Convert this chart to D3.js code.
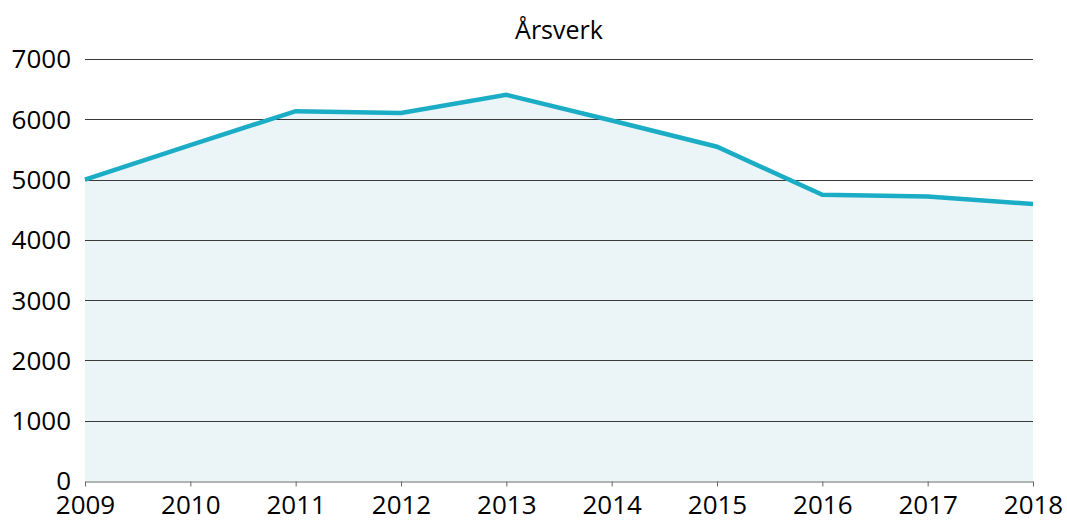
<!DOCTYPE html>
<html>
<head>
<meta charset="utf-8">
<script src="https://cdn.jsdelivr.net/npm/d3@7"></script>
<style>
  body{margin:0;background:#fff;}
  text{font-family:"Open Sans",sans-serif;fill:#000;}
</style>
</head>
<body>
<div id="chart"></div>
<script>
// data
const years=[2009,2010,2011,2012,2013,2014,2015,2016,2017,2018];
const arsverk=[5000,5570,6135,6105,6405,5980,5545,4748,4720,4595];
const yTicks=[0,1000,2000,3000,4000,5000,6000,7000];
const title="Årsverk";

let W=1067,H=525;
let margin={top:59,right:34,bottom:44,left:85},
    width=W-margin.left-margin.right,
    height=H-margin.top-margin.bottom;

let svg=d3.select("#chart").append("svg")
    .attr("width",W).attr("height",H)
  .append("g")
    .attr("transform","translate("+margin.left+","+margin.top+")");

let x=d3.scaleLinear().domain([2009,2018]).range([0,width]);
let y=d3.scaleLinear().domain([0,7000]).range([height,0]);

let pts=years.map((yr,i)=>({x:yr,y:arsverk[i]}));

// area fill
svg.append("path")
  .datum(pts)
  .attr("fill","#ebf4f7")
  .attr("d",d3.area().x(d=>x(d.x)).y0(y(0)).y1(d=>y(d.y)));

// gridlines
svg.append("g")
  .selectAll("line")
  .data(yTicks.filter(d=>d>0))
  .enter().append("line")
    .attr("x1",0).attr("x2",width)
    .attr("y1",d=>Math.round(y(d))+0.5).attr("y2",d=>Math.round(y(d))+0.5)
    .attr("stroke","#3a3a3a").attr("stroke-width",1);

// y labels
svg.append("g")
  .selectAll("text")
  .data(yTicks)
  .enter().append("text")
    .attr("x",-14).attr("y",d=>y(d))
    .attr("dy","0.36em")
    .attr("text-anchor","end")
    .style("font-size","26px")
    .text(d=>d);

// x axis
let xAxis=svg.append("g")
  .attr("transform","translate(0,"+(Math.round(height)+0.5)+")")
  .call(d3.axisBottom(x).tickValues(years).tickFormat(d3.format("d")).tickSize(5).tickSizeOuter(0));
xAxis.select(".domain").attr("stroke","#666");
xAxis.selectAll(".tick line").attr("stroke","#666");
xAxis.selectAll(".tick text")
  .style("font-size","26px")
  .attr("fill","#000")
  .attr("y",14).attr("dy","0.71em");

// line
svg.append("path")
  .datum(pts)
  .attr("fill","none")
  .attr("stroke","#1badc5")
  .attr("stroke-width",4.5)
  .attr("d",d3.line().x(d=>x(d.x)).y(d=>y(d.y)));

// title
svg.append("text")
  .attr("x",width/2).attr("y",-20)
  .attr("text-anchor","middle")
  .style("font-size","25px")
  .text(title);
</script>
</body>
</html>
